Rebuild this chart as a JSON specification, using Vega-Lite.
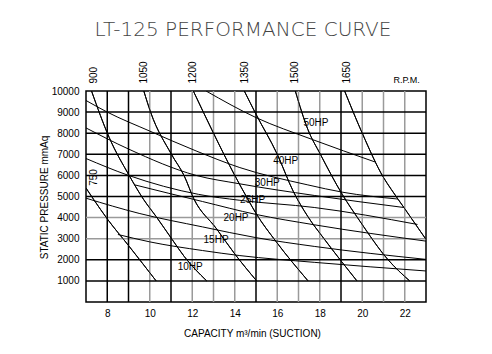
{
  "$schema": "https://vega.github.io/schema/vega-lite/v6.json",
  "autosize": "none",
  "width": 340,
  "height": 211,
  "padding": {"left": 86, "top": 91, "right": 66, "bottom": 52},
  "background": "white",
  "title": {
    "text": "LT-125  PERFORMANCE  CURVE",
    "font": "DejaVu Sans",
    "fontWeight": 200,
    "fontSize": 20,
    "color": "#444444",
    "anchor": "middle",
    "dx": -13,
    "offset": 21
  },
  "config": {
    "view": {"stroke": "black", "strokeWidth": 1.5},
    "axis": {
      "labelFont": "Liberation Sans",
      "titleFont": "Liberation Sans",
      "labelFontSize": 10,
      "titleFontSize": 10,
      "titleFontWeight": "normal",
      "labelColor": "black",
      "titleColor": "black",
      "ticks": false,
      "domain": false,
      "grid": false,
      "labelOverlap": false
    }
  },
  "datasets": {
    "gridBlackX": [{"v": 8}, {"v": 9}, {"v": 11}, {"v": 15}, {"v": 19}],
    "gridGrayX": [{"v": 10}, {"v": 12}, {"v": 13}, {"v": 14}, {"v": 16}, {"v": 17}, {"v": 18}, {"v": 20}, {"v": 21}, {"v": 22}],
    "gridBlackY": [{"v": 1000}, {"v": 2000}, {"v": 5000}, {"v": 6000}, {"v": 7000}, {"v": 8000}, {"v": 9000}],
    "gridGrayY": [{"v": 3000}, {"v": 4000}],
    "rpm": [
      {"curve": "750", "x": 7.0, "y": 5400}, {"curve": "750", "x": 7.36, "y": 4860}, {"curve": "750", "x": 8.0, "y": 3940}, {"curve": "750", "x": 9.03, "y": 2640}, {"curve": "750", "x": 10.3, "y": 1000},
      {"curve": "900", "x": 7.26, "y": 10000}, {"curve": "900", "x": 8.09, "y": 7800}, {"curve": "900", "x": 9.03, "y": 6000}, {"curve": "900", "x": 9.71, "y": 4860}, {"curve": "900", "x": 10.3, "y": 4050}, {"curve": "900", "x": 11.05, "y": 2970}, {"curve": "900", "x": 11.62, "y": 2160}, {"curve": "900", "x": 12.68, "y": 1000},
      {"curve": "1050", "x": 9.72, "y": 10000}, {"curve": "1050", "x": 10.05, "y": 8970}, {"curve": "1050", "x": 11.02, "y": 7000}, {"curve": "1050", "x": 11.62, "y": 5980}, {"curve": "1050", "x": 12.07, "y": 4900}, {"curve": "1050", "x": 13.12, "y": 3500}, {"curve": "1050", "x": 14.03, "y": 2240}, {"curve": "1050", "x": 15.03, "y": 1000},
      {"curve": "1200", "x": 12.05, "y": 10000}, {"curve": "1200", "x": 13.0, "y": 8000}, {"curve": "1200", "x": 14.0, "y": 6000}, {"curve": "1200", "x": 14.6, "y": 4900}, {"curve": "1200", "x": 15.0, "y": 4200}, {"curve": "1200", "x": 15.94, "y": 2870}, {"curve": "1200", "x": 17.45, "y": 1000},
      {"curve": "1350", "x": 14.45, "y": 10000}, {"curve": "1350", "x": 15.0, "y": 8900}, {"curve": "1350", "x": 16.0, "y": 7000}, {"curve": "1350", "x": 16.75, "y": 5250}, {"curve": "1350", "x": 17.44, "y": 4050}, {"curve": "1350", "x": 18.2, "y": 3000}, {"curve": "1350", "x": 19.0, "y": 1950}, {"curve": "1350", "x": 19.75, "y": 1000},
      {"curve": "1500", "x": 16.85, "y": 10000}, {"curve": "1500", "x": 17.44, "y": 8180}, {"curve": "1500", "x": 18.03, "y": 7000}, {"curve": "1500", "x": 19.06, "y": 5100}, {"curve": "1500", "x": 19.89, "y": 3830}, {"curve": "1500", "x": 21.2, "y": 2020}, {"curve": "1500", "x": 22.23, "y": 1000},
      {"curve": "1650", "x": 19.17, "y": 10000}, {"curve": "1650", "x": 20.0, "y": 8000}, {"curve": "1650", "x": 21.0, "y": 5900}, {"curve": "1650", "x": 21.37, "y": 5330}, {"curve": "1650", "x": 22.0, "y": 4420}, {"curve": "1650", "x": 23.0, "y": 2966}
    ],
    "hp": [
      {"curve": "50HP", "x": 12.65, "y": 10000}, {"curve": "50HP", "x": 15.0, "y": 8740}, {"curve": "50HP", "x": 17.6, "y": 7720}, {"curve": "50HP", "x": 20.65, "y": 6620},
      {"curve": "40HP", "x": 7.0, "y": 9550}, {"curve": "40HP", "x": 8.0, "y": 9000}, {"curve": "40HP", "x": 10.0, "y": 8100}, {"curve": "40HP", "x": 12.18, "y": 7160}, {"curve": "40HP", "x": 14.24, "y": 6370}, {"curve": "40HP", "x": 17.44, "y": 5550}, {"curve": "40HP", "x": 19.09, "y": 5200}, {"curve": "40HP", "x": 21.68, "y": 4880},
      {"curve": "30HP", "x": 7.0, "y": 8250}, {"curve": "30HP", "x": 9.0, "y": 7250}, {"curve": "30HP", "x": 12.18, "y": 6000}, {"curve": "30HP", "x": 14.24, "y": 5600}, {"curve": "30HP", "x": 17.74, "y": 5050}, {"curve": "30HP", "x": 21.95, "y": 4480},
      {"curve": "25HP", "x": 7.0, "y": 6800}, {"curve": "25HP", "x": 9.0, "y": 6000}, {"curve": "25HP", "x": 12.3, "y": 5100}, {"curve": "25HP", "x": 14.24, "y": 4820}, {"curve": "25HP", "x": 17.74, "y": 4480}, {"curve": "25HP", "x": 22.6, "y": 3675},
      {"curve": "20HP", "x": 9.3, "y": 5550}, {"curve": "20HP", "x": 10.9, "y": 5150}, {"curve": "20HP", "x": 12.48, "y": 4763}, {"curve": "20HP", "x": 15.0, "y": 4150}, {"curve": "20HP", "x": 17.74, "y": 3660}, {"curve": "20HP", "x": 23.0, "y": 2885},
      {"curve": "15HP", "x": 7.0, "y": 4920}, {"curve": "15HP", "x": 9.5, "y": 4200}, {"curve": "15HP", "x": 12.48, "y": 3560}, {"curve": "15HP", "x": 15.0, "y": 3050}, {"curve": "15HP", "x": 17.74, "y": 2635}, {"curve": "15HP", "x": 23.0, "y": 2020},
      {"curve": "10HP", "x": 8.5, "y": 3200}, {"curve": "10HP", "x": 10.0, "y": 2850}, {"curve": "10HP", "x": 12.48, "y": 2440}, {"curve": "10HP", "x": 14.24, "y": 2200}, {"curve": "10HP", "x": 17.74, "y": 1880}, {"curve": "10HP", "x": 23.0, "y": 1470}
    ],
    "rpmLabels": [
      {"label": "900", "x": 7.36, "y": 10350},
      {"label": "1050", "x": 9.71, "y": 10350},
      {"label": "1200", "x": 12.05, "y": 10350},
      {"label": "1350", "x": 14.48, "y": 10350},
      {"label": "1500", "x": 16.83, "y": 10350},
      {"label": "1650", "x": 19.26, "y": 10350}
    ],
    "hpLabels": [
      {"label": "50HP", "x": 17.82, "y": 8500},
      {"label": "40HP", "x": 16.4, "y": 6670},
      {"label": "30HP", "x": 15.53, "y": 5650},
      {"label": "25HP", "x": 14.84, "y": 4845},
      {"label": "20HP", "x": 14.06, "y": 3960},
      {"label": "15HP", "x": 13.12, "y": 2930},
      {"label": "10HP", "x": 11.9, "y": 1665}
    ],
    "misc": [
      {"label": "R.P.M.", "x": 22.09, "y": 10535}
    ],
    "side": [
      {"label": "750", "x": 7.39, "y": 5900}
    ]
  },
  "layer": [
    {
      "data": {"name": "rpm"},
      "mark": {"type": "line", "interpolate": "monotone", "color": "black", "strokeWidth": 1, "clip": true},
      "encoding": {
        "x": {
          "field": "x", "type": "quantitative",
          "scale": {"domain": [7, 23], "nice": false, "zero": false},
          "axis": {
            "values": [8, 10, 12, 14, 16, 18, 20, 22],
            "tickCount": 20,
            "labelOverlap": false,
            "labelPadding": 6,
            "title": "CAPACITY  m³/min  (SUCTION)",
            "titleX": 166,
            "titleY": 34,
            "titleBaseline": "alphabetic"
          }
        },
        "y": {
          "field": "y", "type": "quantitative",
          "scale": {"domain": [0, 10000], "nice": false},
          "axis": {
            "values": [1000, 2000, 3000, 4000, 5000, 6000, 7000, 8000, 9000, 10000],
            "tickCount": 20,
            "format": "d",
            "labelOverlap": false,
            "labelBound": false,
            "labelPadding": 7,
            "title": "STATIC PRESSURE  mmAq",
            "titleAngle": 270,
            "titleX": -42,
            "titleY": 106,
            "titleAlign": "center",
            "titleBaseline": "middle"
          }
        },
        "detail": {"field": "curve"}
      }
    },
    {
      "data": {"name": "gridGrayX"},
      "mark": {"type": "rule", "color": "#9a9a9a", "strokeWidth": 1.5},
      "encoding": {"x": {"field": "v", "type": "quantitative"}}
    },
    {
      "data": {"name": "gridGrayY"},
      "mark": {"type": "rule", "color": "#9a9a9a", "strokeWidth": 1.5},
      "encoding": {"y": {"field": "v", "type": "quantitative"}}
    },
    {
      "data": {"name": "gridBlackX"},
      "mark": {"type": "rule", "color": "black", "strokeWidth": 1.5},
      "encoding": {"x": {"field": "v", "type": "quantitative"}}
    },
    {
      "data": {"name": "gridBlackY"},
      "mark": {"type": "rule", "color": "black", "strokeWidth": 1.5},
      "encoding": {"y": {"field": "v", "type": "quantitative"}}
    },
    {
      "data": {"name": "rpm"},
      "mark": {"type": "line", "interpolate": "monotone", "color": "black", "strokeWidth": 1, "clip": true},
      "encoding": {
        "x": {"field": "x", "type": "quantitative"},
        "y": {"field": "y", "type": "quantitative"},
        "detail": {"field": "curve"}
      }
    },
    {
      "data": {"name": "hp"},
      "mark": {"type": "line", "interpolate": "monotone", "color": "black", "strokeWidth": 1, "clip": true},
      "encoding": {
        "x": {"field": "x", "type": "quantitative"},
        "y": {"field": "y", "type": "quantitative"},
        "detail": {"field": "curve"}
      }
    },
    {
      "data": {"name": "rpmLabels"},
      "mark": {"type": "text", "angle": 270, "align": "left", "baseline": "middle", "font": "Liberation Sans", "fontSize": 10, "color": "black"},
      "encoding": {
        "x": {"field": "x", "type": "quantitative"},
        "y": {"field": "y", "type": "quantitative"},
        "text": {"field": "label"}
      }
    },
    {
      "data": {"name": "side"},
      "mark": {"type": "text", "angle": 270, "align": "center", "baseline": "middle", "font": "Liberation Sans", "fontSize": 10, "color": "black"},
      "encoding": {
        "x": {"field": "x", "type": "quantitative"},
        "y": {"field": "y", "type": "quantitative"},
        "text": {"field": "label"}
      }
    },
    {
      "data": {"name": "hpLabels"},
      "mark": {"type": "text", "align": "center", "baseline": "middle", "font": "Liberation Sans", "fontSize": 10, "color": "black"},
      "encoding": {
        "x": {"field": "x", "type": "quantitative"},
        "y": {"field": "y", "type": "quantitative"},
        "text": {"field": "label"}
      }
    },
    {
      "data": {"name": "misc"},
      "mark": {"type": "text", "align": "center", "baseline": "middle", "font": "Liberation Sans", "fontSize": 9, "color": "black"},
      "encoding": {
        "x": {"field": "x", "type": "quantitative"},
        "y": {"field": "y", "type": "quantitative"},
        "text": {"field": "label"}
      }
    }
  ]
}
